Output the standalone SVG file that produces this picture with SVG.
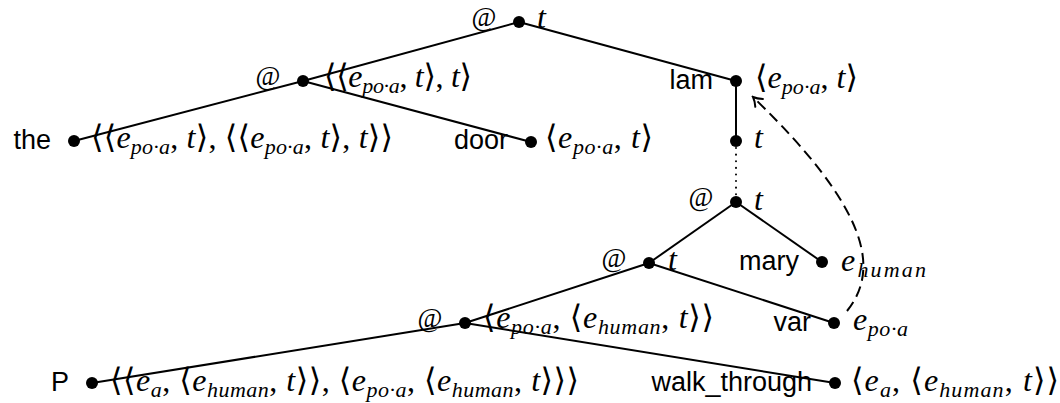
<svg xmlns="http://www.w3.org/2000/svg" width="1060" height="403" viewBox="0 0 1060 403">
<style>
.edge{stroke:#000;stroke-width:2;fill:none}
.dot{fill:#000}
.dotted{stroke:#000;stroke-width:2;stroke-dasharray:0.1 6.5;stroke-linecap:round;fill:none}
.dash{stroke:#000;stroke-width:2;stroke-dasharray:11 6;fill:none}
.w{font-family:"Liberation Sans","Arial",sans-serif;font-size:27px;fill:#000;text-anchor:end}
.at{font-family:"Liberation Serif","DejaVu Serif",serif;font-size:27px;fill:#000;text-anchor:middle}
.m{font-family:"Liberation Serif","DejaVu Serif",serif;font-size:32px;fill:#000}
.i{font-style:italic}
.s{font-style:italic;font-size:22px}
</style>
<defs>
<marker id="tip" markerUnits="userSpaceOnUse" viewBox="-10 -8 12 16" markerWidth="12" markerHeight="16" refX="0" refY="0" orient="auto">
<path d="M -8.5,-5.5 C -5.5,-2.8 -2.2,-0.8 0,0 C -2.2,0.8 -5.5,2.8 -8.5,5.5" fill="none" stroke="#000" stroke-width="2" stroke-linecap="round"/>
</marker>
</defs>
<g id="connectors">
<line class="edge" x1="519" y1="22" x2="303" y2="81"/>
<line class="edge" x1="519" y1="22" x2="736" y2="81"/>
<line class="edge" x1="303" y1="81" x2="74" y2="141"/>
<line class="edge" x1="303" y1="81" x2="531" y2="142"/>
<line class="edge" x1="736" y1="81" x2="736" y2="141"/>
<line class="dotted" x1="736" y1="148" x2="736" y2="198"/>
<line class="edge" x1="736" y1="202" x2="649" y2="263"/>
<line class="edge" x1="736" y1="202" x2="822" y2="262"/>
<line class="edge" x1="649" y1="263" x2="465" y2="323"/>
<line class="edge" x1="649" y1="263" x2="834" y2="323"/>
<line class="edge" x1="465" y1="323" x2="92" y2="383"/>
<line class="edge" x1="465" y1="323" x2="835" y2="383"/>
<path class="dash" d="M 847 311 C 880 270, 870 210, 753 97" marker-end="url(#tip)"/>
</g>
<g id="n_root">
<circle class="dot" cx="519" cy="22" r="6"/>
<text class="at" x="484" y="26">@</text>
<text class="m" x="537" y="28"><tspan class="i">t</tspan></text>
</g>
<g id="n_app1">
<circle class="dot" cx="303" cy="81" r="6"/>
<text class="at" x="268" y="85">@</text>
<text class="m" x="324" y="87" textLength="148" lengthAdjust="spacing">⟨⟨<tspan class="i">e</tspan><tspan class="s" dy="6">po·a</tspan><tspan dy="-6">, </tspan><tspan class="i">t</tspan>⟩, <tspan class="i">t</tspan>⟩</text>
</g>
<g id="n_the">
<circle class="dot" cx="74" cy="141" r="6"/>
<text class="w" x="51" y="149">the</text>
<text class="m" x="91" y="148" textLength="302" lengthAdjust="spacing">⟨⟨<tspan class="i">e</tspan><tspan class="s" dy="6">po·a</tspan><tspan dy="-6">, </tspan><tspan class="i">t</tspan>⟩, ⟨⟨<tspan class="i">e</tspan><tspan class="s" dy="6">po·a</tspan><tspan dy="-6">, </tspan><tspan class="i">t</tspan>⟩, <tspan class="i">t</tspan>⟩⟩</text>
</g>
<g id="n_door">
<circle class="dot" cx="531" cy="142" r="6"/>
<text class="w" x="508" y="149">door</text>
<text class="m" x="545" y="148" textLength="108" lengthAdjust="spacing">⟨<tspan class="i">e</tspan><tspan class="s" dy="6">po·a</tspan><tspan dy="-6">, </tspan><tspan class="i">t</tspan>⟩</text>
</g>
<g id="n_lam">
<circle class="dot" cx="736" cy="81" r="6"/>
<text class="w" x="713" y="89">lam</text>
<text class="m" x="755" y="88" textLength="103" lengthAdjust="spacing">⟨<tspan class="i">e</tspan><tspan class="s" dy="6">po·a</tspan><tspan dy="-6">, </tspan><tspan class="i">t</tspan>⟩</text>
</g>
<g id="n_body">
<circle class="dot" cx="736" cy="141" r="6"/>
<text class="m" x="754" y="148"><tspan class="i">t</tspan></text>
</g>
<g id="n_app2">
<circle class="dot" cx="736" cy="202" r="6"/>
<text class="at" x="701" y="206">@</text>
<text class="m" x="754" y="210"><tspan class="i">t</tspan></text>
</g>
<g id="n_mary">
<circle class="dot" cx="822" cy="262" r="6"/>
<text class="w" x="799" y="270">mary</text>
<text class="m" x="841" y="271" textLength="85" lengthAdjust="spacing"><tspan class="i">e</tspan><tspan class="s" dy="6">human</tspan></text>
</g>
<g id="n_app3">
<circle class="dot" cx="649" cy="263" r="6"/>
<text class="at" x="614" y="267">@</text>
<text class="m" x="668" y="270"><tspan class="i">t</tspan></text>
</g>
<g id="n_var">
<circle class="dot" cx="834" cy="323" r="6"/>
<text class="w" x="811" y="331">var</text>
<text class="m" x="853" y="330" textLength="55" lengthAdjust="spacing"><tspan class="i">e</tspan><tspan class="s" dy="6">po·a</tspan></text>
</g>
<g id="n_app4">
<circle class="dot" cx="465" cy="323" r="6"/>
<text class="at" x="430" y="327">@</text>
<text class="m" x="483" y="328" textLength="231" lengthAdjust="spacing">⟨<tspan class="i">e</tspan><tspan class="s" dy="6">po·a</tspan><tspan dy="-6">, ⟨</tspan><tspan class="i">e</tspan><tspan class="s" dy="6">human</tspan><tspan dy="-6">, </tspan><tspan class="i">t</tspan>⟩⟩</text>
</g>
<g id="n_P">
<circle class="dot" cx="92" cy="383" r="6"/>
<text class="w" x="69" y="391">P</text>
<text class="m" x="110" y="391" textLength="469" lengthAdjust="spacing">⟨⟨<tspan class="i">e</tspan><tspan class="s" dy="6">a</tspan><tspan dy="-6">, ⟨</tspan><tspan class="i">e</tspan><tspan class="s" dy="6">human</tspan><tspan dy="-6">, </tspan><tspan class="i">t</tspan>⟩⟩, ⟨<tspan class="i">e</tspan><tspan class="s" dy="6">po·a</tspan><tspan dy="-6">, ⟨</tspan><tspan class="i">e</tspan><tspan class="s" dy="6">human</tspan><tspan dy="-6">, </tspan><tspan class="i">t</tspan>⟩⟩⟩</text>
</g>
<g id="n_walk">
<circle class="dot" cx="835" cy="383" r="6"/>
<text class="w" x="812" y="391">walk_through</text>
<text class="m" x="851" y="391" textLength="208" lengthAdjust="spacing">⟨<tspan class="i">e</tspan><tspan class="s" dy="6">a</tspan><tspan dy="-6">, ⟨</tspan><tspan class="i">e</tspan><tspan class="s" dy="6">human</tspan><tspan dy="-6">, </tspan><tspan class="i">t</tspan>⟩⟩</text>
</g>
</svg>
